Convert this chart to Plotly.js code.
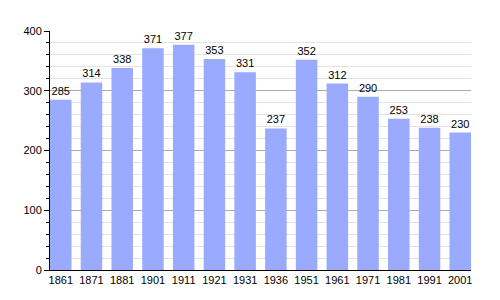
<!DOCTYPE html>
<html><head><meta charset="utf-8">
<script src="https://cdn.plot.ly/plotly-3.0.1.min.js"></script>
<style>body{margin:0;}#c{width:500px;height:300px;}</style>
</head><body><div id="c"></div>
<script>
const years = ["1861","1871","1881","1901","1911","1921","1931","1936","1951","1961","1971","1981","1991","2001"];
const population = [285,314,338,371,377,353,331,237,352,312,290,253,238,230];
const yTicks = [0,100,200,300,400];

const idx = years.map((_, i) => i);
const trace = {
  type: 'bar', x: idx, y: population, width: 0.7,
  marker: {color: '#99aaff', line: {width: 0}},
  text: population.map(String), textposition: 'outside', cliponaxis: false,
  textfont: {family: 'Liberation Sans, Arial, sans-serif', size: 11, color: '#000'},
  hoverinfo: 'none'
};
const layout = {
  width: 500, height: 300,
  margin: {l: 50, r: 29, t: 31, b: 30},
  paper_bgcolor: '#fff', plot_bgcolor: '#fff',
  showlegend: false,
  font: {family: 'Liberation Sans, Arial, sans-serif', size: 11, color: '#000'},
  xaxis: {
    range: [-0.35, 13.35], tickvals: idx, ticktext: years,
    showgrid: false, zeroline: false, showline: true, linecolor: '#000', linewidth: 1,
    ticks: '', ticklen: 0, tickfont: {size: 11}, fixedrange: true
  },
  yaxis: {
    range: [0, 400], tickvals: yTicks, ticktext: yTicks.map(String),
    showgrid: true, gridcolor: '#aaaaaa', gridwidth: 1,
    zeroline: false, showline: true, linecolor: '#000', linewidth: 1,
    ticks: 'outside', ticklen: 5, tickcolor: '#000', tickfont: {size: 11},
    minor: {dtick: 20, tick0: 0, showgrid: true, gridcolor: '#e2e2e2', gridwidth: 1, ticks: 'outside', ticklen: 3, tickcolor: '#000'},
    fixedrange: true
  }
};
Plotly.newPlot('c', [trace], layout, {staticPlot: true});
</script></body></html>
